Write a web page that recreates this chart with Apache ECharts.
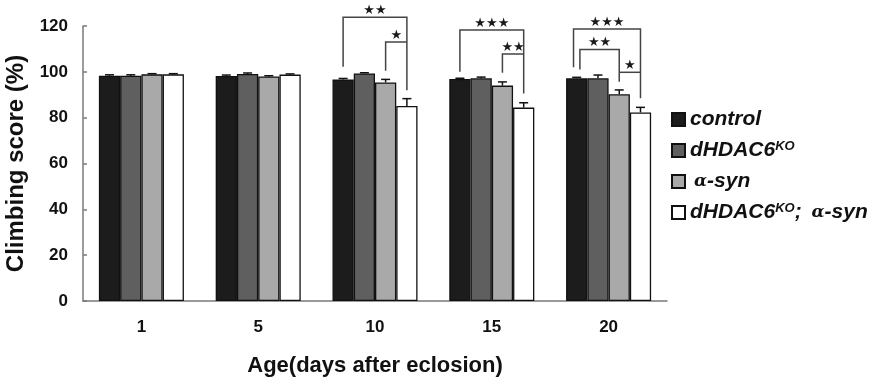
<!DOCTYPE html>
<html>
<head>
<meta charset="utf-8">
<script src="https://cdn.jsdelivr.net/npm/echarts@6/dist/echarts.min.js"></script>
<style>html,body{margin:0;padding:0;background:#fff}#c{width:870px;height:378px}</style>
</head>
<body>
<div id="c"></div>
<script>
var categories = ['1', '5', '10', '15', '20'];
var yTicks = [0, 20, 40, 60, 80, 100, 120];
var seriesNames = ['control', 'dHDAC6KO', 'α-syn', 'dHDAC6KO; α-syn'];
var controlVals = [98.3, 98.2, 96.7, 96.9, 97.2];
var koVals = [98.3, 99.1, 99.3, 97.2, 97.2];
var asynVals = [98.9, 98.0, 95.4, 94.0, 90.2];
var doubleVals = [98.9, 98.8, 85.1, 84.4, 82.3];
var controlErr = [0.4, 0.4, 0.4, 0.3, 0.4];
var koErr = [0.4, 0.4, 0.3, 0.5, 1.4];
var asynErr = [0.3, 0.3, 1.3, 1.6, 1.9];
var doubleErr = [0.3, 0.3, 3.2, 2.1, 2.2];
// brackets: [category, fromBar, toBar, topValue, leftLegBottom, rightLegBottom, stars]
var brackets = [
  [2, 0, 3, 123.8, 102.2, 92.0, '★★'],
  [2, 2, 3, 113.0, 100.5, 113.0, '★'],
  [3, 0, 3, 118.3, 100.0, 90.6, '★★★'],
  [3, 2, 3, 107.8, 99.6, 107.8, '★★'],
  [4, 0, 3, 118.7, 102.0, 88.5, '★★★'],
  [4, 0, 2, 109.8, 101.0, 95.7, '★★'],
  [4, 2, 3, 99.8, 99.8, 99.8, '★']
];
var legShift = [0, 0, 0, 0, -0.15, 0.15, 0];

var colors = ['#1c1c1c', '#5f5f5f', '#a9a9a9', '#ffffff'];
var vals = [controlVals, koVals, asynVals, doubleVals];
var errs = [controlErr, koErr, asynErr, doubleErr];
var BARFRAC = 0.182;
var FONT = '"Liberation Sans", Arial, sans-serif';

var errData = [];
for (var s = 0; s < 4; s++) {
  for (var c = 0; c < categories.length; c++) {
    errData.push([c, vals[s][c], s, errs[s][c]]);
  }
}

function barX(api, cat, bar) {
  var p = api.coord([cat, 0]);
  var bw = api.size([1, 0])[0] * BARFRAC;
  return p[0] + (bar - 1.5) * bw;
}

var series = [];
for (var i = 0; i < 4; i++) {
  series.push({
    name: seriesNames[i],
    type: 'bar',
    data: vals[i],
    barWidth: (BARFRAC * 100) + '%',
    barGap: '0%',
    itemStyle: { color: colors[i], borderColor: '#111', borderWidth: 1.3 },
    emphasis: { disabled: true },
    z: 2
  });
}
series.push({
  type: 'custom',
  data: errData,
  z: 3,
  silent: true,
  encode: { x: 0, y: 1 },
  renderItem: function (params, api) {
    var cat = api.value(0), v = api.value(1), s = api.value(2), e = api.value(3);
    var x = barX(api, cat, s);
    var y0 = api.coord([cat, v])[1];
    var y1 = api.coord([cat, v + e])[1];
    var st = { stroke: '#111', lineWidth: 1.5 };
    return { type: 'group', children: [
      { type: 'line', shape: { x1: x, y1: y0, x2: x, y2: y1 }, style: st },
      { type: 'line', shape: { x1: x - 4.5, y1: y1, x2: x + 4.5, y2: y1 }, style: st }
    ]};
  }
});
series.push({
  type: 'custom',
  data: brackets.map(function (b) { return [b[0], b[3], b[1], b[2], b[4], b[5]]; }),
  z: 4,
  silent: true,
  clip: false,
  encode: { x: 0, y: 1 },
  renderItem: function (params, api) {
    var b = brackets[params.dataIndex];
    var cat = api.value(0);
    var bw = api.size([1, 0])[0] * BARFRAC;
    var xl = barX(api, cat, api.value(2)) + legShift[params.dataIndex] * bw;
    var xr = barX(api, cat, api.value(3));
    var yt = api.coord([cat, api.value(1)])[1];
    var yl = api.coord([cat, api.value(4)])[1];
    var yr = api.coord([cat, api.value(5)])[1];
    var st = { stroke: '#444', lineWidth: 1.5, fill: null };
    return { type: 'group', children: [
      { type: 'polyline', shape: { points: [[xl, yl], [xl, yt], [xr, yt], [xr, yr]] }, style: st },
      { type: 'text', x: (xl + xr) / 2, y: yt, style: { text: b[6], fill: '#1a1a1a', font: '13px "DejaVu Sans"', align: 'center', verticalAlign: 'bottom' } }
    ]};
  }
});

var chart = echarts.init(document.getElementById('c'), null, { renderer: 'canvas' });
chart.setOption({
  animation: false,
  backgroundColor: '#fff',
  grid: { left: 83, right: 203, top: 26, bottom: 77, outerBoundsMode: 'none', containLabel: false },
  legend: {
    orient: 'vertical',
    left: 666,
    top: 104,
    itemWidth: 13,
    itemHeight: 13,
    itemGap: 10,
    icon: 'rect',
    selectedMode: false,
    data: seriesNames,
    textStyle: {
      fontFamily: FONT, fontSize: 21, fontWeight: 'bold', fontStyle: 'italic', color: '#111',
      rich: {
        b: { fontFamily: FONT, fontSize: 21, fontWeight: 'bold', fontStyle: 'italic', color: '#111' },
        sup: { fontFamily: FONT, fontSize: 13, fontWeight: 'bold', fontStyle: 'italic', color: '#111', verticalAlign: 'top', padding: [0, 0, 8, 0] },
        a: { fontFamily: '"DejaVu Serif", serif', fontSize: 17, fontStyle: 'italic', color: '#111', padding: [0, 0, 0, 4] }
      }
    },
    formatter: function (name) {
      var parts = name.split('; ');
      var out = parts.map(function (p) {
        var r = p.replace('KO', '}{sup|KO}{b|');
        r = '{b|' + r + '}';
        r = r.replace('α', '}{a|α}{b|');
        return r;
      });
      return out.join('{b|; }');
    }
  },
  xAxis: {
    type: 'category',
    data: categories,
    name: 'Age(days after eclosion)',
    nameLocation: 'middle',
    nameGap: 54,
    nameTextStyle: { fontFamily: FONT, fontSize: 22, fontWeight: 'bold', color: '#111' },
    axisLine: { lineStyle: { color: '#7a7a7a', width: 1.5 } },
    axisTick: { inside: true, length: 5, lineStyle: { color: '#7a7a7a', width: 1.5 } },
    axisLabel: { fontFamily: FONT, fontSize: 17, fontWeight: 'bold', color: '#111', margin: 18 }
  },
  yAxis: {
    type: 'value',
    min: yTicks[0],
    max: yTicks[yTicks.length - 1],
    interval: yTicks[1] - yTicks[0],
    name: 'Climbing score (%)',
    nameLocation: 'middle',
    nameGap: 48,
    nameTextStyle: { fontFamily: FONT, fontSize: 24, fontWeight: 'bold', color: '#111' },
    axisLine: { show: true, lineStyle: { color: '#7a7a7a', width: 1.5 } },
    axisTick: { show: true, inside: true, length: 4, lineStyle: { color: '#7a7a7a', width: 1.5 } },
    axisLabel: { fontFamily: FONT, fontSize: 17, fontWeight: 'bold', color: '#111', margin: 15 },
    splitLine: { show: false }
  },
  series: series
});
</script>
</body>
</html>
